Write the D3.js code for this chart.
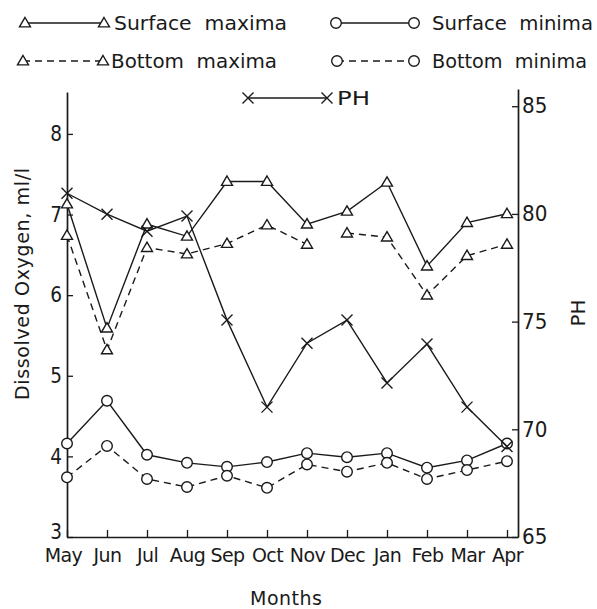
<!DOCTYPE html>
<html>
<head>
<meta charset="utf-8">
<script src="https://cdn.jsdelivr.net/npm/d3@7"></script>
<style>
  html, body { margin: 0; padding: 0; background: #fff; }
  svg { display: block; }
  text { font-family: "DejaVu Sans", sans-serif; fill: #1a1a1a; }
</style>
</head>
<body>
<svg id="chart" width="597" height="609"></svg>
<script>
// ---------------- data ----------------
const months = ["May","Jun","Jul","Aug","Sep","Oct","Nov","Dec","Jan","Feb","Mar","Apr"];
const surfaceMaxima = [7.13, 5.59, 6.88, 6.73, 7.41, 7.41, 6.88, 7.04, 7.40, 6.36, 6.90, 7.01];
const bottomMaxima  = [6.74, 5.32, 6.59, 6.51, 6.64, 6.87, 6.63, 6.77, 6.72, 6.00, 6.49, 6.63];
const bottomMaximaBreakAfter = ["Nov"];   // segment Nov–Dec is not drawn in the original
const surfaceMinima = [4.16, 4.69, 4.02, 3.92, 3.87, 3.93, 4.04, 3.99, 4.04, 3.86, 3.95, 4.16];
const bottomMinima  = [3.74, 4.13, 3.72, 3.62, 3.76, 3.61, 3.90, 3.81, 3.92, 3.72, 3.83, 3.94];
const pH            = [80.96, 79.99, 79.2, 79.9, 75.07, 71.03, 74.0, 75.07, 72.15, 73.96, 71.03, 69.2];
const leftTicks  = [3, 4, 5, 6, 7, 8];
const rightTicks = [65, 70, 75, 80, 85];

// ---------------- layout ----------------
const svg = d3.select("#chart");
const x  = d3.scaleLinear().domain([0, 11.275]).range([67, 518]);
const yL = d3.scaleLinear().domain([3, 8.52]).range([537, 92]);
const yR = d3.scaleLinear().domain([65, 85.8]).range([537, 89]);
const ink = "#1a1a1a";
const FONT = "'DejaVu Sans', sans-serif";

// axes
const gL = svg.append("g").attr("transform", `translate(${x(0)},0)`)
  .call(d3.axisLeft(yL).tickValues(leftTicks).tickFormat(d3.format("d"))
        .tickSizeInner(-6).tickSizeOuter(0).tickPadding(5));
const gR = svg.append("g").attr("transform", `translate(${x.range()[1]},0)`)
  .call(d3.axisRight(yR).tickValues(rightTicks).tickFormat(d3.format("d"))
        .tickSizeInner(-6).tickSizeOuter(0).tickPadding(4));
const gX = svg.append("g").attr("transform", `translate(0,${yL(3)})`)
  .call(d3.axisBottom(x).tickValues(d3.range(months.length)).tickFormat(i => months[i])
        .tickSizeInner(-7).tickSizeOuter(0).tickPadding(12));

[gL, gR, gX].forEach(g => {
  g.select(".domain").attr("stroke", ink).attr("stroke-width", 1.7);
  g.selectAll(".tick line").attr("stroke", ink).attr("stroke-width", 1.3);
  g.selectAll("text").attr("fill", ink).style("font-family", FONT);
});
gL.selectAll("text").attr("font-size", 21).attr("transform", "scale(0.88,1)").attr("x", -5 / 0.88);
gL.selectAll(".tick").filter(d => d === 3).select("text").attr("dy", "0.05em");
gR.selectAll("text").attr("font-size", 21).attr("transform", "scale(0.95,1)").attr("x", 4 / 0.95);
gX.selectAll("text").attr("font-size", 19).attr("letter-spacing", -0.6);
gX.selectAll(".tick").filter(d => d === 0).select("text").attr("dx", -4);

// axis titles
svg.append("text").attr("transform", "translate(29,284) rotate(-90)")
  .attr("text-anchor", "middle").attr("font-size", 19)
  .attr("textLength", 232).attr("lengthAdjust", "spacing")
  .text("Dissolved Oxygen, ml/l");
svg.append("text").attr("transform", "translate(585,313) rotate(-90)")
  .attr("text-anchor", "middle").attr("font-size", 20)
  .text("PH");
svg.append("text").attr("x", 286).attr("y", 605)
  .attr("text-anchor", "middle").attr("font-size", 19)
  .attr("textLength", 72).attr("lengthAdjust", "spacing")
  .text("Months");

// markers
function triangle(g, cx, cy) {
  const s = 5.5;
  g.append("path").attr("d", `M${cx},${cy - s} L${cx + s},${cy + s * 0.7} L${cx - s},${cy + s * 0.7} Z`)
    .attr("fill", "#fff").attr("stroke", ink).attr("stroke-width", 1.4);
}
function circle(g, cx, cy) {
  g.append("circle").attr("cx", cx).attr("cy", cy).attr("r", 5.3)
    .attr("fill", "#fff").attr("stroke", ink).attr("stroke-width", 1.4);
}
function cross(g, cx, cy) {
  const s = 5.5;
  g.append("path").attr("d", `M${cx - s},${cy - s} L${cx + s},${cy + s} M${cx - s},${cy + s} L${cx + s},${cy - s}`)
    .attr("stroke", ink).attr("stroke-width", 1.4).attr("fill", "none");
}

// series
const series = [
  { values: surfaceMaxima, scale: yL, dash: null,  marker: triangle, breaks: [] },
  { values: bottomMaxima,  scale: yL, dash: "7,5", marker: triangle, breaks: bottomMaximaBreakAfter },
  { values: surfaceMinima, scale: yL, dash: null,  marker: circle,   breaks: [] },
  { values: bottomMinima,  scale: yL, dash: "7,5", marker: circle,   breaks: [] },
  { values: pH,            scale: yR, dash: null,  marker: cross,    breaks: [] },
];

series.forEach(s => {
  const pts = s.values.map((v, i) => ({ i, v }));
  const runs = [[]];
  pts.forEach(p => {
    runs[runs.length - 1].push(p);
    if (s.breaks.includes(months[p.i])) runs.push([]);
  });
  const line = d3.line().x(d => x(d.i)).y(d => s.scale(d.v));
  const g = svg.append("g");
  runs.filter(r => r.length > 1).forEach(r => {
    g.append("path").datum(r).attr("d", line)
      .attr("fill", "none").attr("stroke", ink).attr("stroke-width", 1.4)
      .attr("stroke-dasharray", s.dash);
  });
  pts.forEach(p => s.marker(g, x(p.i), s.scale(p.v)));
});

// legend
const legend = [
  { label: "Surface  maxima", x1: 25,  x2: 104, y: 23, dash: null,  marker: triangle, tx: 114, w: 173 },
  { label: "Surface  minima", x1: 336, x2: 414, y: 23, dash: null,  marker: circle,   tx: 432, w: 161 },
  { label: "Bottom  maxima",  x1: 23,  x2: 103, y: 61, dash: "7,5", marker: triangle, tx: 111, w: 166 },
  { label: "Bottom  minima",  x1: 337, x2: 414, y: 61, dash: "7,5", marker: circle,   tx: 432, w: 155 },
  { label: "PH",              x1: 248, x2: 327, y: 98, dash: null,  marker: cross,    tx: 337, w: 33 },
];
const lg = svg.append("g");
legend.forEach(l => {
  lg.append("line").attr("x1", l.x1).attr("x2", l.x2).attr("y1", l.y).attr("y2", l.y)
    .attr("stroke", ink).attr("stroke-width", 1.4).attr("stroke-dasharray", l.dash);
  l.marker(lg, l.x1, l.y);
  l.marker(lg, l.x2, l.y);
  lg.append("text").attr("x", l.tx).attr("y", l.y + 7)
    .attr("font-size", 19).attr("xml:space", "preserve").style("white-space", "pre")
    .attr("textLength", l.w).attr("lengthAdjust", "spacingAndGlyphs")
    .text(l.label);
});
</script>
</body>
</html>
